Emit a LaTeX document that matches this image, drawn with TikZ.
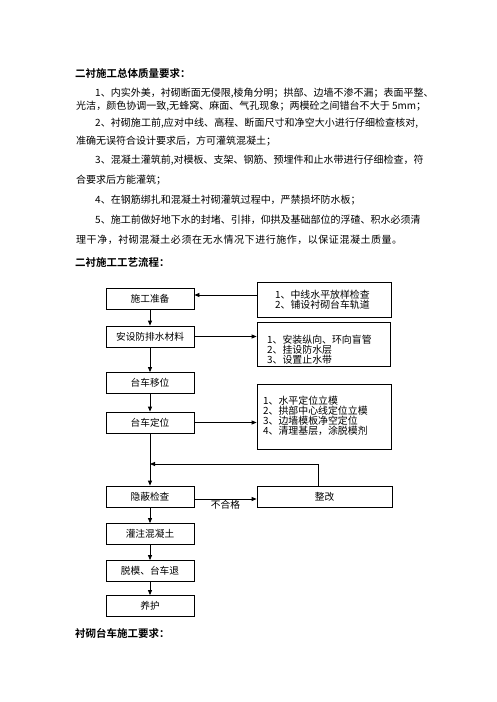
\documentclass[tikz,border=0pt]{standalone}
\usepackage{fontspec}
\setmainfont{Noto Sans CJK SC}[BoldFont={Noto Sans CJK SC Bold}]
\usetikzlibrary{arrows.meta}
% stretchable glue between CJK characters, used to justify the body lines
\XeTeXinterchartokenstate=1
\newXeTeXintercharclass\cjkcls
\newcount\cjkcnt
\def\setcjkrange#1#2{\cjkcnt=#1 \loop\XeTeXcharclass\cjkcnt=\cjkcls\ifnum\cjkcnt<#2 \advance\cjkcnt 1 \repeat}
\setcjkrange{"3000}{"303F}
\setcjkrange{"4E00}{"9FFF}
\setcjkrange{"FF00}{"FFEF}
\XeTeXinterchartoks\cjkcls\cjkcls={\hskip0pt plus 0.5pt\relax}
\XeTeXinterchartoks 0 \cjkcls={\hskip0pt plus 0.5pt\relax}
\XeTeXinterchartoks\cjkcls 0 ={\hskip0pt plus 0.5pt\relax}
\hbadness=10000
\begin{document}
\begin{tikzpicture}[x=1pt,y=-1pt,
  box/.style={draw, line width=0.8pt, minimum width=88pt, minimum height=21pt, inner sep=0pt, font=\fontsize{9.7}{10}\selectfont},
  rbox/.style={draw, line width=0.8pt, inner sep=0pt},
  rtext/.style={anchor=north west, inner sep=0pt, align=left, font=\fontsize{9.9}{10}\selectfont},
  arr/.style={line width=0.8pt, -{Triangle[length=5pt,width=4pt]}},
  bodyline/.style={anchor=west, inner sep=0pt, font=\fontsize{10}{12}\selectfont},
  head/.style={anchor=west, inner sep=0pt, font=\fontsize{10.5}{12}\selectfont\bfseries}]
\useasboundingbox[fill=white] (0,0) rectangle (496,702);

% headings and body text
\node[head] (h1) at (75,73) {二衬施工总体质量要求：};
\node[bodyline] (l1) at (95,93) {\hbox to 337pt{1、内实外美，衬砌断面无侵限,棱角分明；拱部、边墙不渗不漏；表面平整、}};
\node[bodyline] (l2) at (76,106) {\hbox to 350pt{光洁，颜色协调一致,无蜂窝、麻面、气孔现象；两模砼之间错台不大于 5mm；}};
\node[bodyline] (l3) at (95,123) {\hbox to 323pt{2、衬砌施工前,应对中线、高程、断面尺寸和净空大小进行仔细检查核对,}};
\node[bodyline] (l4) at (76,141) {准确无误符合设计要求后，方可灌筑混凝土；};
\node[bodyline] (l5) at (95,160) {\hbox to 325pt{3、混凝土灌筑前,对模板、支架、钢筋、预埋件和止水带进行仔细检查，符}};
\node[bodyline] (l6) at (76,180) {合要求后方能灌筑；};
\node[bodyline] (l7) at (95,200) {4、在钢筋绑扎和混凝土衬砌灌筑过程中，严禁损坏防水板；};
\node[bodyline] (l8) at (95,220) {\hbox to 325pt{5、施工前做好地下水的封堵、引排，仰拱及基础部位的浮碴、积水必须清}};
\node[bodyline] (l9) at (76,240) {\hbox to 326pt{理干净，衬砌混凝土必须在无水情况下进行施作，以保证混凝土质量。}};
\node[head] (h2) at (75,262) {二衬施工工艺流程：};
\node[head] (h3) at (75,633) {衬砌台车施工要求：};

% main column
\node[box] (s1) at (150,298.5) {施工准备};
\node[box] (s2) at (150,336.5) {安设防排水材料};
\node[box] (s3) at (150,383) {台车移位};
\node[box] (s4) at (150,422.5) {台车定位};
\node[box] (s5) at (150,496.5) {隐蔽检查};
\node[box] (s6) at (150,534) {灌注混凝土};
\node[box] (s7) at (150,571) {脱模、台车退};
\node[box] (s8) at (150,606) {养护};

% right boxes
\node[rbox, minimum width=134pt, minimum height=35pt] (r1) at (324,299.5) {};
\node[rtext] (r1t) at (275,289.5) {1、中线水平放样检查\\2、铺设衬砌台车轨道};
\node[rbox, minimum width=133pt, minimum height=44pt] (r2) at (323.5,344) {};
\node[rtext] (r2t) at (267,334.5) {1、安装纵向、环向盲管\\2、挂设防水层\\3、设置止水带};
\node[rbox, minimum width=134pt, minimum height=65pt] (r3) at (324,416.5) {};
\node[rtext] (r3t) at (263,396) {1、水平定位立模\\2、拱部中心线定位立模\\3、边墙模板净空定位\\4、清理基层，涂脱模剂};
\node[rbox, minimum width=135pt, minimum height=21pt, font=\fontsize{9.7}{10}\selectfont] (zg) at (324.5,496.5) {整改};

% connectors
\draw[arr] (s1) -- (s2);
\draw[arr] (s2) -- (s3);
\draw[arr] (s3) -- (s4);
\draw[arr] (s4) -- (s5);
\draw[arr] (s5) -- (s6);
\draw[arr] (s6) -- (s7);
\draw[arr] (s7) -- (s8);
\draw[arr] ([yshift=4.5pt]r1.west) -- ([yshift=4.5pt]r1.west -| s1.east);
\draw[arr] (s2.east) -- (s2.east -| r2.west);
\draw[arr] (s4.east) -- (s4.east -| r3.west);
\draw[arr] ([yshift=-2.5pt]s5.east) -- ([yshift=-2.5pt]s5.east -| zg.west)
  node[midway, below=0.5pt, inner sep=0pt, font=\fontsize{9.7}{10}\selectfont] (bhg) {不合格};
\coordinate (j) at (150,464);
\draw[arr] ([xshift=-6.5pt]zg.north) |- (j);
\end{tikzpicture}
\end{document}
